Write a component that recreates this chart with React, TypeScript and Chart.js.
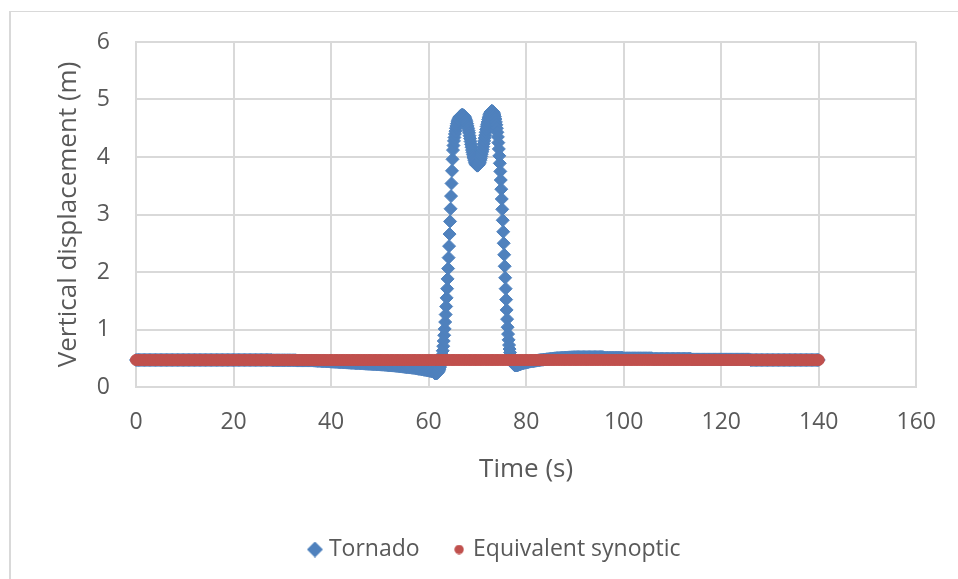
import React, { useEffect, useRef } from "react";
import { Chart, registerables } from "chart.js";

Chart.register(...registerables);

const seriesNames = ["Tornado", "Equivalent synoptic"];
const xTitle = "Time (s)";
const yTitle = "Vertical displacement (m)";
const xMin = 0, xMax = 160, xStep = 20;
const yMin = 0, yMax = 6, yStep = 1;

// Tornado series: time (s)
const tornadoTime = [
  0, 0.25, 0.5, 0.75, 1, 1.25, 1.5, 1.75,
  2, 2.25, 2.5, 2.75, 3, 3.25, 3.5, 3.75,
  4, 4.25, 4.5, 4.75, 5, 5.25, 5.5, 5.75,
  6, 6.25, 6.5, 6.75, 7, 7.25, 7.5, 7.75,
  8, 8.25, 8.5, 8.75, 9, 9.25, 9.5, 9.75,
  10, 10.25, 10.5, 10.75, 11, 11.25, 11.5, 11.75,
  12, 12.25, 12.5, 12.75, 13, 13.25, 13.5, 13.75,
  14, 14.25, 14.5, 14.75, 15, 15.25, 15.5, 15.75,
  16, 16.25, 16.5, 16.75, 17, 17.25, 17.5, 17.75,
  18, 18.25, 18.5, 18.75, 19, 19.25, 19.5, 19.75,
  20, 20.25, 20.5, 20.75, 21, 21.25, 21.5, 21.75,
  22, 22.25, 22.5, 22.75, 23, 23.25, 23.5, 23.75,
  24, 24.25, 24.5, 24.75, 25, 25.25, 25.5, 25.75,
  26, 26.25, 26.5, 26.75, 27, 27.25, 27.5, 27.75,
  28, 28.25, 28.5, 28.75, 29, 29.25, 29.5, 29.75,
  30, 30.25, 30.5, 30.75, 31, 31.25, 31.5, 31.75,
  32, 32.25, 32.5, 32.75, 33, 33.25, 33.5, 33.75,
  34, 34.25, 34.5, 34.75, 35, 35.25, 35.5, 35.75,
  36, 36.25, 36.5, 36.75, 37, 37.25, 37.5, 37.75,
  38, 38.25, 38.5, 38.75, 39, 39.25, 39.5, 39.75,
  40, 40.25, 40.5, 40.75, 41, 41.25, 41.5, 41.75,
  42, 42.25, 42.5, 42.75, 43, 43.25, 43.5, 43.75,
  44, 44.25, 44.5, 44.75, 45, 45.25, 45.5, 45.75,
  46, 46.25, 46.5, 46.75, 47, 47.25, 47.5, 47.75,
  48, 48.25, 48.5, 48.75, 49, 49.25, 49.5, 49.75,
  50, 50.25, 50.5, 50.75, 51, 51.25, 51.5, 51.75,
  52, 52.25, 52.5, 52.75, 53, 53.25, 53.5, 53.75,
  54, 54.25, 54.5, 54.75, 55, 55.25, 55.5, 55.75,
  56, 56.25, 56.5, 56.75, 57, 57.25, 57.5, 57.75,
  58, 58.25, 58.5, 58.75, 59, 59.25, 59.5, 59.75,
  60, 60.25, 60.5, 60.75,
  61.0, 61.1, 61.2, 61.3, 61.4, 61.5, 61.6, 61.7, 61.8, 61.9,
  62.0, 62.1, 62.2, 62.3, 62.4, 62.5, 62.6, 62.7, 62.8, 62.9,
  63.0, 63.1, 63.2, 63.3, 63.4, 63.5, 63.6, 63.7, 63.8, 63.9,
  64.0, 64.1, 64.2, 64.3, 64.4, 64.5, 64.6, 64.7, 64.8, 64.9,
  65.0, 65.1, 65.2, 65.3, 65.4, 65.5, 65.6, 65.7, 65.8, 65.9,
  66.0, 66.1, 66.2, 66.3, 66.4, 66.5, 66.6, 66.7, 66.8, 66.9,
  67.0, 67.1, 67.2, 67.3, 67.4, 67.5, 67.6, 67.7, 67.8, 67.9,
  68.0, 68.1, 68.2, 68.3, 68.4, 68.5, 68.6, 68.7, 68.8, 68.9,
  69.0, 69.1, 69.2, 69.3, 69.4, 69.5, 69.6, 69.7, 69.8, 69.9,
  70.0, 70.1, 70.2, 70.3, 70.4, 70.5, 70.6, 70.7, 70.8, 70.9,
  71.0, 71.1, 71.2, 71.3, 71.4, 71.5, 71.6, 71.7, 71.8, 71.9,
  72.0, 72.1, 72.2, 72.3, 72.4, 72.5, 72.6, 72.7, 72.8, 72.9,
  73.0, 73.1, 73.2, 73.3, 73.4, 73.5, 73.6, 73.7, 73.8, 73.9,
  74.0, 74.1, 74.2, 74.3, 74.4, 74.5, 74.6, 74.7, 74.8, 74.9,
  75.0, 75.1, 75.2, 75.3, 75.4, 75.5, 75.6, 75.7, 75.8, 75.9,
  76.0, 76.1, 76.2, 76.3, 76.4, 76.5, 76.6, 76.7, 76.8, 76.9,
  77.0, 77.1, 77.2, 77.3, 77.4, 77.5, 77.6, 77.7, 77.8, 77.9,
  78.0, 78.1, 78.2, 78.3, 78.4, 78.5, 78.6, 78.7, 78.8, 78.9,
  79, 79.25, 79.5, 79.75,
  80, 80.25, 80.5, 80.75, 81, 81.25, 81.5, 81.75,
  82, 82.25, 82.5, 82.75, 83, 83.25, 83.5, 83.75,
  84, 84.25, 84.5, 84.75, 85, 85.25, 85.5, 85.75,
  86, 86.25, 86.5, 86.75, 87, 87.25, 87.5, 87.75,
  88, 88.25, 88.5, 88.75, 89, 89.25, 89.5, 89.75,
  90, 90.25, 90.5, 90.75, 91, 91.25, 91.5, 91.75,
  92, 92.25, 92.5, 92.75, 93, 93.25, 93.5, 93.75,
  94, 94.25, 94.5, 94.75, 95, 95.25, 95.5, 95.75,
  96, 96.25, 96.5, 96.75, 97, 97.25, 97.5, 97.75,
  98, 98.25, 98.5, 98.75, 99, 99.25, 99.5, 99.75,
  100, 100.25, 100.5, 100.75, 101, 101.25, 101.5, 101.75,
  102, 102.25, 102.5, 102.75, 103, 103.25, 103.5, 103.75,
  104, 104.25, 104.5, 104.75, 105, 105.25, 105.5, 105.75,
  106, 106.25, 106.5, 106.75, 107, 107.25, 107.5, 107.75,
  108, 108.25, 108.5, 108.75, 109, 109.25, 109.5, 109.75,
  110, 110.25, 110.5, 110.75, 111, 111.25, 111.5, 111.75,
  112, 112.25, 112.5, 112.75, 113, 113.25, 113.5, 113.75,
  114, 114.25, 114.5, 114.75, 115, 115.25, 115.5, 115.75,
  116, 116.25, 116.5, 116.75, 117, 117.25, 117.5, 117.75,
  118, 118.25, 118.5, 118.75, 119, 119.25, 119.5, 119.75,
  120, 120.25, 120.5, 120.75, 121, 121.25, 121.5, 121.75,
  122, 122.25, 122.5, 122.75, 123, 123.25, 123.5, 123.75,
  124, 124.25, 124.5, 124.75, 125, 125.25, 125.5, 125.75,
  126, 126.25, 126.5, 126.75, 127, 127.25, 127.5, 127.75,
  128, 128.25, 128.5, 128.75, 129, 129.25, 129.5, 129.75,
  130, 130.25, 130.5, 130.75, 131, 131.25, 131.5, 131.75,
  132, 132.25, 132.5, 132.75, 133, 133.25, 133.5, 133.75,
  134, 134.25, 134.5, 134.75, 135, 135.25, 135.5, 135.75,
  136, 136.25, 136.5, 136.75, 137, 137.25, 137.5, 137.75,
  138, 138.25, 138.5, 138.75, 139, 139.25, 139.5, 139.75,
  140,
];

// Tornado series: vertical displacement (m)
const tornadoDisp = [
  0.47, 0.47, 0.47, 0.47, 0.47, 0.47, 0.47, 0.47,
  0.47, 0.47, 0.47, 0.47, 0.47, 0.47, 0.47, 0.47,
  0.47, 0.47, 0.47, 0.47, 0.47, 0.47, 0.47, 0.47,
  0.47, 0.47, 0.47, 0.47, 0.47, 0.47, 0.47, 0.47,
  0.47, 0.47, 0.47, 0.47, 0.47, 0.47, 0.47, 0.47,
  0.47, 0.47, 0.47, 0.47, 0.47, 0.47, 0.47, 0.47,
  0.47, 0.47, 0.47, 0.47, 0.47, 0.47, 0.47, 0.47,
  0.47, 0.47, 0.47, 0.47, 0.47, 0.47, 0.47, 0.47,
  0.47, 0.47, 0.47, 0.47, 0.47, 0.47, 0.47, 0.47,
  0.47, 0.47, 0.47, 0.47, 0.47, 0.47, 0.47, 0.47,
  0.47, 0.47, 0.47, 0.47, 0.47, 0.47, 0.47, 0.47,
  0.47, 0.47, 0.47, 0.47, 0.47, 0.47, 0.47, 0.47,
  0.47, 0.47, 0.47, 0.47, 0.47, 0.47, 0.47, 0.47,
  0.47, 0.47, 0.47, 0.47, 0.47, 0.47, 0.47, 0.47,
  0.465, 0.465, 0.465, 0.465, 0.465, 0.465, 0.465, 0.465,
  0.465, 0.465, 0.465, 0.465, 0.465, 0.465, 0.465, 0.465,
  0.465, 0.465, 0.465, 0.465, 0.46, 0.46, 0.46, 0.46,
  0.46, 0.46, 0.46, 0.46, 0.46, 0.46, 0.46, 0.46,
  0.46, 0.46, 0.458, 0.457, 0.455, 0.454, 0.453, 0.452,
  0.45, 0.449, 0.448, 0.447, 0.445, 0.444, 0.443, 0.442,
  0.44, 0.439, 0.438, 0.437, 0.435, 0.434, 0.433, 0.432,
  0.43, 0.429, 0.428, 0.427, 0.425, 0.424, 0.423, 0.422,
  0.42, 0.419, 0.418, 0.417, 0.415, 0.414, 0.413, 0.412,
  0.41, 0.409, 0.408, 0.407, 0.405, 0.404, 0.403, 0.402,
  0.40, 0.399, 0.398, 0.397, 0.395, 0.394, 0.393, 0.392,
  0.39, 0.389, 0.388, 0.387, 0.385, 0.383, 0.38, 0.378,
  0.375, 0.374, 0.373, 0.372, 0.37, 0.368, 0.365, 0.363,
  0.36, 0.358, 0.355, 0.353, 0.35, 0.348, 0.345, 0.343,
  0.34, 0.338, 0.335, 0.333, 0.33, 0.327, 0.323, 0.319,
  0.315, 0.312, 0.308, 0.304, 0.30, 0.297, 0.293, 0.289,
  0.285, 0.28, 0.275, 0.27,
  0.265, 0.255, 0.245, 0.24, 0.235, 0.235, 0.235, 0.24, 0.25, 0.26,
  0.27, 0.29, 0.31, 0.34, 0.37, 0.41, 0.45, 0.50, 0.56, 0.63,
  0.71, 0.80, 0.90, 1.01, 1.13, 1.26, 1.40, 1.55, 1.71, 1.88,
  2.06, 2.25, 2.45, 2.66, 2.88, 3.10, 3.32, 3.54, 3.76, 3.96,
  4.12, 4.20, 4.28, 4.34, 4.40, 4.45, 4.50, 4.54, 4.58, 4.61,
  4.63, 4.65, 4.67, 4.69, 4.70, 4.71, 4.72, 4.725, 4.73, 4.73,
  4.73, 4.725, 4.72, 4.71, 4.70, 4.68, 4.66, 4.64, 4.61, 4.58,
  4.54, 4.50, 4.46, 4.42, 4.37, 4.32, 4.27, 4.22, 4.17, 4.12,
  4.08, 4.04, 4.00, 3.97, 3.94, 3.91, 3.89, 3.87, 3.86, 3.855,
  3.85, 3.855, 3.86, 3.87, 3.89, 3.91, 3.94, 3.97, 4.01, 4.05,
  4.09, 4.13, 4.18, 4.23, 4.28, 4.33, 4.38, 4.43, 4.48, 4.53,
  4.57, 4.61, 4.65, 4.68, 4.71, 4.74, 4.76, 4.78, 4.79, 4.80,
  4.80, 4.795, 4.79, 4.775, 4.76, 4.73, 4.70, 4.66, 4.61, 4.56,
  4.50, 4.43, 4.35, 4.25, 4.14, 4.02, 3.89, 3.75, 3.60, 3.44,
  3.27, 3.09, 2.90, 2.70, 2.50, 2.30, 2.10, 1.90, 1.71, 1.52,
  1.34, 1.18, 1.04, 0.92, 0.82, 0.73, 0.66, 0.60, 0.55, 0.51,
  0.48, 0.45, 0.43, 0.415, 0.40, 0.39, 0.385, 0.38, 0.375, 0.375,
  0.375, 0.378, 0.38, 0.383, 0.386, 0.39, 0.393, 0.396, 0.40, 0.403,
  0.405, 0.41, 0.415, 0.42,
  0.425, 0.43, 0.435, 0.44, 0.445, 0.448, 0.45, 0.453,
  0.456, 0.46, 0.464, 0.467, 0.47, 0.473, 0.475, 0.478,
  0.48, 0.483, 0.485, 0.488, 0.49, 0.493, 0.495, 0.498,
  0.50, 0.502, 0.504, 0.505, 0.506, 0.507, 0.508, 0.51,
  0.512, 0.513, 0.514, 0.515, 0.516, 0.517, 0.518, 0.519,
  0.52, 0.52, 0.52, 0.52, 0.52, 0.52, 0.52, 0.52,
  0.52, 0.52, 0.52, 0.52, 0.52, 0.52, 0.52, 0.52,
  0.52, 0.52, 0.52, 0.52, 0.52, 0.52, 0.52, 0.52,
  0.51, 0.51, 0.51, 0.51, 0.51, 0.51, 0.51, 0.51,
  0.51, 0.51, 0.51, 0.51, 0.51, 0.51, 0.51, 0.51,
  0.50, 0.50, 0.50, 0.50, 0.50, 0.50, 0.50, 0.50,
  0.50, 0.50, 0.50, 0.50, 0.50, 0.50, 0.50, 0.50,
  0.50, 0.50, 0.50, 0.50, 0.50, 0.50, 0.50, 0.50,
  0.49, 0.49, 0.49, 0.49, 0.49, 0.49, 0.49, 0.49,
  0.49, 0.49, 0.49, 0.49, 0.49, 0.49, 0.49, 0.49,
  0.49, 0.49, 0.49, 0.49, 0.49, 0.49, 0.49, 0.49,
  0.49, 0.49, 0.49, 0.49, 0.49, 0.49, 0.49, 0.49,
  0.48, 0.48, 0.48, 0.48, 0.48, 0.48, 0.48, 0.48,
  0.48, 0.48, 0.48, 0.48, 0.48, 0.48, 0.48, 0.48,
  0.48, 0.48, 0.48, 0.48, 0.48, 0.48, 0.48, 0.48,
  0.48, 0.48, 0.48, 0.48, 0.48, 0.48, 0.48, 0.48,
  0.48, 0.48, 0.48, 0.48, 0.48, 0.48, 0.48, 0.48,
  0.48, 0.48, 0.48, 0.48, 0.48, 0.48, 0.48, 0.48,
  0.47, 0.47, 0.47, 0.47, 0.47, 0.47, 0.47, 0.47,
  0.47, 0.47, 0.47, 0.47, 0.47, 0.47, 0.47, 0.47,
  0.47, 0.47, 0.47, 0.47, 0.47, 0.47, 0.47, 0.47,
  0.47, 0.47, 0.47, 0.47, 0.47, 0.47, 0.47, 0.47,
  0.47, 0.47, 0.47, 0.47, 0.47, 0.47, 0.47, 0.47,
  0.47, 0.47, 0.47, 0.47, 0.47, 0.47, 0.47, 0.47,
  0.47, 0.47, 0.47, 0.47, 0.47, 0.47, 0.47, 0.47,
  0.47,
];

// Equivalent synoptic series
const synopticTime = [
  0, 0.5, 1, 1.5, 2, 2.5, 3, 3.5, 4, 4.5,
  5, 5.5, 6, 6.5, 7, 7.5, 8, 8.5, 9, 9.5,
  10, 10.5, 11, 11.5, 12, 12.5, 13, 13.5, 14, 14.5,
  15, 15.5, 16, 16.5, 17, 17.5, 18, 18.5, 19, 19.5,
  20, 20.5, 21, 21.5, 22, 22.5, 23, 23.5, 24, 24.5,
  25, 25.5, 26, 26.5, 27, 27.5, 28, 28.5, 29, 29.5,
  30, 30.5, 31, 31.5, 32, 32.5, 33, 33.5, 34, 34.5,
  35, 35.5, 36, 36.5, 37, 37.5, 38, 38.5, 39, 39.5,
  40, 40.5, 41, 41.5, 42, 42.5, 43, 43.5, 44, 44.5,
  45, 45.5, 46, 46.5, 47, 47.5, 48, 48.5, 49, 49.5,
  50, 50.5, 51, 51.5, 52, 52.5, 53, 53.5, 54, 54.5,
  55, 55.5, 56, 56.5, 57, 57.5, 58, 58.5, 59, 59.5,
  60, 60.5, 61, 61.5, 62, 62.5, 63, 63.5, 64, 64.5,
  65, 65.5, 66, 66.5, 67, 67.5, 68, 68.5, 69, 69.5,
  70, 70.5, 71, 71.5, 72, 72.5, 73, 73.5, 74, 74.5,
  75, 75.5, 76, 76.5, 77, 77.5, 78, 78.5, 79, 79.5,
  80, 80.5, 81, 81.5, 82, 82.5, 83, 83.5, 84, 84.5,
  85, 85.5, 86, 86.5, 87, 87.5, 88, 88.5, 89, 89.5,
  90, 90.5, 91, 91.5, 92, 92.5, 93, 93.5, 94, 94.5,
  95, 95.5, 96, 96.5, 97, 97.5, 98, 98.5, 99, 99.5,
  100, 100.5, 101, 101.5, 102, 102.5, 103, 103.5, 104, 104.5,
  105, 105.5, 106, 106.5, 107, 107.5, 108, 108.5, 109, 109.5,
  110, 110.5, 111, 111.5, 112, 112.5, 113, 113.5, 114, 114.5,
  115, 115.5, 116, 116.5, 117, 117.5, 118, 118.5, 119, 119.5,
  120, 120.5, 121, 121.5, 122, 122.5, 123, 123.5, 124, 124.5,
  125, 125.5, 126, 126.5, 127, 127.5, 128, 128.5, 129, 129.5,
  130, 130.5, 131, 131.5, 132, 132.5, 133, 133.5, 134, 134.5,
  135, 135.5, 136, 136.5, 137, 137.5, 138, 138.5, 139, 139.5,
  140,
];
const synopticDisp = [
  0.47, 0.47, 0.47, 0.47, 0.47, 0.47, 0.47, 0.47, 0.47, 0.47,
  0.47, 0.47, 0.47, 0.47, 0.47, 0.47, 0.47, 0.47, 0.47, 0.47,
  0.47, 0.47, 0.47, 0.47, 0.47, 0.47, 0.47, 0.47, 0.47, 0.47,
  0.47, 0.47, 0.47, 0.47, 0.47, 0.47, 0.47, 0.47, 0.47, 0.47,
  0.47, 0.47, 0.47, 0.47, 0.47, 0.47, 0.47, 0.47, 0.47, 0.47,
  0.47, 0.47, 0.47, 0.47, 0.47, 0.47, 0.47, 0.47, 0.47, 0.47,
  0.47, 0.47, 0.47, 0.47, 0.47, 0.47, 0.47, 0.47, 0.47, 0.47,
  0.47, 0.47, 0.47, 0.47, 0.47, 0.47, 0.47, 0.47, 0.47, 0.47,
  0.47, 0.47, 0.47, 0.47, 0.47, 0.47, 0.47, 0.47, 0.47, 0.47,
  0.47, 0.47, 0.47, 0.47, 0.47, 0.47, 0.47, 0.47, 0.47, 0.47,
  0.47, 0.47, 0.47, 0.47, 0.47, 0.47, 0.47, 0.47, 0.47, 0.47,
  0.47, 0.47, 0.47, 0.47, 0.47, 0.47, 0.47, 0.47, 0.47, 0.47,
  0.47, 0.47, 0.47, 0.47, 0.47, 0.47, 0.47, 0.47, 0.47, 0.47,
  0.47, 0.47, 0.47, 0.47, 0.47, 0.47, 0.47, 0.47, 0.47, 0.47,
  0.47, 0.47, 0.47, 0.47, 0.47, 0.47, 0.47, 0.47, 0.47, 0.47,
  0.47, 0.47, 0.47, 0.47, 0.47, 0.47, 0.47, 0.47, 0.47, 0.47,
  0.47, 0.47, 0.47, 0.47, 0.47, 0.47, 0.47, 0.47, 0.47, 0.47,
  0.47, 0.47, 0.47, 0.47, 0.47, 0.47, 0.47, 0.47, 0.47, 0.47,
  0.47, 0.47, 0.47, 0.47, 0.47, 0.47, 0.47, 0.47, 0.47, 0.47,
  0.47, 0.47, 0.47, 0.47, 0.47, 0.47, 0.47, 0.47, 0.47, 0.47,
  0.47, 0.47, 0.47, 0.47, 0.47, 0.47, 0.47, 0.47, 0.47, 0.47,
  0.47, 0.47, 0.47, 0.47, 0.47, 0.47, 0.47, 0.47, 0.47, 0.47,
  0.47, 0.47, 0.47, 0.47, 0.47, 0.47, 0.47, 0.47, 0.47, 0.47,
  0.47, 0.47, 0.47, 0.47, 0.47, 0.47, 0.47, 0.47, 0.47, 0.47,
  0.47, 0.47, 0.47, 0.47, 0.47, 0.47, 0.47, 0.47, 0.47, 0.47,
  0.47, 0.47, 0.47, 0.47, 0.47, 0.47, 0.47, 0.47, 0.47, 0.47,
  0.47, 0.47, 0.47, 0.47, 0.47, 0.47, 0.47, 0.47, 0.47, 0.47,
  0.47, 0.47, 0.47, 0.47, 0.47, 0.47, 0.47, 0.47, 0.47, 0.47,
  0.47,
];

const BLUE = "#4F81BD";
const RED = "#C0504D";
const TEXT = "#595959";
const GRID = "#d9d9d9";
const FAMILY = "'Open Sans', 'Noto Sans', sans-serif";

function makeIcon(kind: "diamond" | "circle", color: string, size: number) {
  const c = document.createElement("canvas");
  c.width = size;
  c.height = size;
  const g = c.getContext("2d")!;
  g.fillStyle = color;
  g.beginPath();
  const h = size / 2;
  if (kind === "diamond") {
    g.moveTo(h, 0);
    g.lineTo(size, h);
    g.lineTo(h, size);
    g.lineTo(0, h);
    g.closePath();
  } else {
    g.arc(h, h, h - 0.3, 0, Math.PI * 2);
  }
  g.fill();
  return c;
}

const legendShift = {
  id: "legendShift",
  afterLayout(chart: any) {
    const lg = chart.legend;
    if (lg) {
      lg.left += 26.5;
      lg.right += 26.5;
    }
  },
};

export default function App() {
  const ref = useRef<HTMLCanvasElement>(null);

  useEffect(() => {
    const canvas = ref.current!;
    const icons = [makeIcon("diamond", BLUE, 16), makeIcon("circle", RED, 10)];
    const chart = new Chart(canvas, {
      type: "scatter",
      data: {
        datasets: [
          {
            label: seriesNames[0],
            data: tornadoTime.map((t, i) => ({ x: t, y: tornadoDisp[i] })),
            pointStyle: "rectRot",
            pointRadius: 6.5,
            pointBackgroundColor: BLUE,
            pointBorderColor: BLUE,
            pointBorderWidth: 1,
            backgroundColor: BLUE,
            borderColor: BLUE,
            showLine: false,
            order: 1,
            clip: false,
          } as any,
          {
            label: seriesNames[1],
            data: synopticTime.map((t, i) => ({ x: t, y: synopticDisp[i] })),
            pointStyle: "circle",
            pointRadius: 5.5,
            pointBackgroundColor: RED,
            pointBorderColor: RED,
            pointBorderWidth: 1,
            backgroundColor: RED,
            borderColor: RED,
            showLine: false,
            order: 0,
            clip: false,
          } as any,
        ],
      },
      options: {
        animation: false,
        responsive: false,
        devicePixelRatio: 1,
        events: [],
        layout: { padding: { left: 20, right: 38, top: 42, bottom: 8 } },
        scales: {
          x: {
            type: "linear",
            min: xMin,
            max: xMax,
            ticks: { stepSize: xStep, padding: 22, color: TEXT, font: { family: FAMILY, size: 23 } },
            grid: { color: GRID, lineWidth: 2, drawTicks: false },
            border: { color: GRID, width: 2 },
            title: {
              display: true,
              text: xTitle,
              color: TEXT,
              font: { family: FAMILY, size: 26 },
              padding: { top: 18, bottom: 15.4 },
            },
            afterFit: (s: any) => {
              s.height = 114;
            },
          },
          y: {
            type: "linear",
            min: yMin,
            max: yMax,
            ticks: { stepSize: yStep, padding: 26, color: TEXT, font: { family: FAMILY, size: 23 } },
            grid: { color: GRID, lineWidth: 2, drawTicks: false },
            border: { color: GRID, width: 2 },
            title: {
              display: true,
              text: yTitle,
              color: TEXT,
              font: { family: FAMILY, size: 26 },
              padding: { top: 33.4, bottom: 0 },
            },
            afterFit: (s: any) => {
              s.width = 116;
            },
          },
        },
        plugins: {
          legend: {
            position: "bottom",
            labels: {
              usePointStyle: true,
              pointStyleWidth: 5,
              padding: 37,
              color: TEXT,
              font: { family: FAMILY, size: 23 },
              sort: (a: any, b: any) => a.datasetIndex - b.datasetIndex,
              generateLabels: (c: any) => {
                const items = (Chart.defaults.plugins.legend.labels as any).generateLabels(c);
                items.forEach((it: any) => {
                  it.pointStyle = icons[it.datasetIndex];
                });
                return items;
              },
            },
          },
          tooltip: { enabled: false },
        },
      } as any,
      plugins: [legendShift],
    });
    return () => chart.destroy();
  }, []);

  return (
    <div style={{ position: "fixed", left: 0, top: 0, width: 958, height: 579, background: "#fff" }}>
      <div
        style={{
          position: "absolute",
          left: 9,
          top: 11,
          right: 0,
          bottom: 0,
          borderLeft: "2px solid #d9d9d9",
          borderTop: "1px solid #d9d9d9",
        }}
      />
      <canvas
        ref={ref}
        width={958}
        height={579}
        style={{ position: "absolute", left: 0, top: 0, width: 958, height: 579 }}
      />
    </div>
  );
}
